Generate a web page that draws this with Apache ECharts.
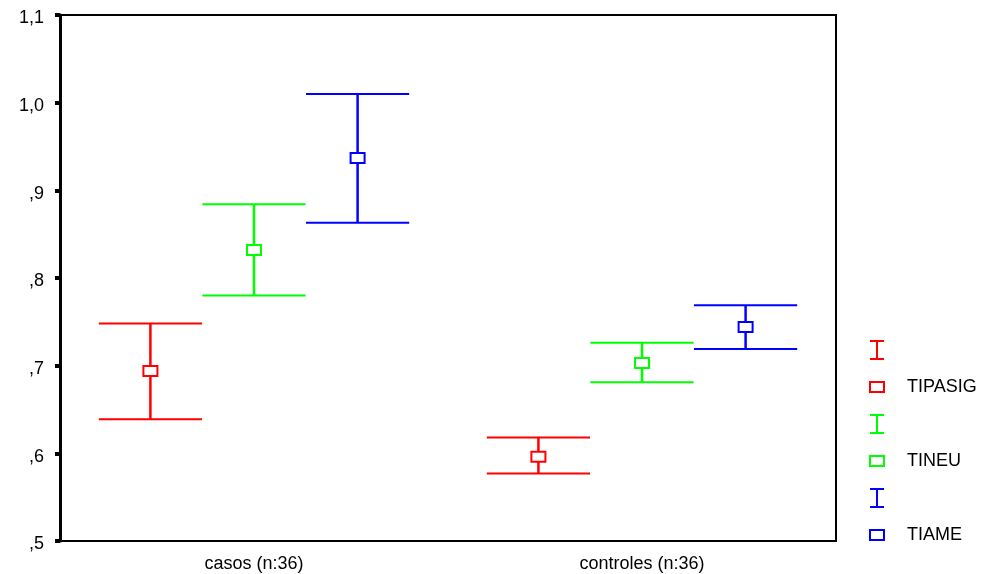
<!DOCTYPE html>
<html>
<head>
<meta charset="utf-8">
<script src="https://cdn.jsdelivr.net/npm/echarts@6/dist/echarts.min.js"></script>
<style>html,body{margin:0;padding:0;background:#fff}#c{width:1002px;height:574px}</style>
</head>
<body>
<div id="c"></div>
<script>
const categories = ['casos (n:36)', 'controles (n:36)'];
const seriesNames = ['TIPASIG', 'TINEU', 'TIAME'];
const seriesColors = ['#ff0000', '#00ff00', '#0000ff'];
const tipasigMean = [0.694, 0.596];
const tipasigLow  = [0.639, 0.577];
const tipasigHigh = [0.748, 0.618];
const tineuMean = [0.832, 0.703];
const tineuLow  = [0.780, 0.681];
const tineuHigh = [0.884, 0.726];
const tiameMean = [0.937, 0.744];
const tiameLow  = [0.863, 0.719];
const tiameHigh = [1.010, 0.769];
const yTicks = [0.5, 1.1, 0.1]; // min, max, interval

const means = [tipasigMean, tineuMean, tiameMean];
const lows = [tipasigLow, tineuLow, tiameLow];
const highs = [tipasigHigh, tineuHigh, tiameHigh];

const FONT = 'Liberation Sans, Arial, sans-serif';
const OFF = 0.267, HALF = 0.133;

function ciRender(idx) {
  return function (params, api) {
    const cat = api.value(0);
    const pHi = api.coord([cat, api.value(2)]);
    const pLo = api.coord([cat, api.value(1)]);
    const bw = api.size([1, 0])[0];
    const x = pHi[0] + (idx - 1) * OFF * bw;
    const h = HALF * bw;
    const st = { stroke: seriesColors[idx], lineWidth: 2, fill: null };
    return {
      type: 'group',
      children: [
        { type: 'line', shape: { x1: x, y1: pHi[1], x2: x, y2: pLo[1] }, style: Object.assign({}, st, { lineWidth: 2.5 }) },
        { type: 'line', shape: { x1: x - h, y1: pHi[1], x2: x + h, y2: pHi[1] }, style: st },
        { type: 'line', shape: { x1: x - h, y1: pLo[1], x2: x + h, y2: pLo[1] }, style: st }
      ]
    };
  };
}
function meanRender(idx) {
  return function (params, api) {
    const cat = api.value(0);
    const p = api.coord([cat, api.value(1)]);
    const bw = api.size([1, 0])[0];
    const x = p[0] + (idx - 1) * OFF * bw;
    return {
      type: 'rect',
      shape: { x: x - 7, y: p[1] - 5, width: 14, height: 10 },
      style: { fill: '#ffffff', stroke: seriesColors[idx], lineWidth: 2 }
    };
  };
}

const series = [];
const legendData = [];
seriesNames.forEach((n, i) => {
  series.push({
    name: n + '_ci', type: 'custom', renderItem: ciRender(i),
    itemStyle: { color: seriesColors[i] },
    encode: { x: 0, y: [1, 2] },
    data: categories.map((c, k) => [k, lows[i][k], highs[i][k]])
  });
});
seriesNames.forEach((n, i) => {
  series.push({
    name: n, type: 'custom', renderItem: meanRender(i), z: 3,
    itemStyle: { color: seriesColors[i] },
    encode: { x: 0, y: 1 },
    data: categories.map((c, k) => [k, means[i][k]])
  });
});
seriesNames.forEach((n, i) => {
  legendData.push({
    name: n + '_ci',
    icon: 'path://M0,0H14M7,0V18M0,18H14',
    itemStyle: { color: 'rgba(0,0,0,0)', borderColor: seriesColors[i], borderWidth: 2 }
  });
  legendData.push({
    name: n,
    icon: 'path://M0,0M14,18M0,4H14V14H0Z',
    itemStyle: { color: '#ffffff', borderColor: seriesColors[i], borderWidth: 2 }
  });
});

const chart = echarts.init(document.getElementById('c'), null, { renderer: 'canvas' });
chart.setOption({
  animation: false,
  backgroundColor: '#ffffff',
  grid: { left: 60, top: 15, right: 166, bottom: 33, show: true, borderColor: '#000', borderWidth: 2 },
  xAxis: {
    type: 'category', data: categories, boundaryGap: true,
    axisLine: { lineStyle: { color: '#000', width: 2 } },
    axisTick: { alignWithLabel: true, length: 5, lineStyle: { color: '#000', width: 6 } },
    axisLabel: { color: '#000', fontFamily: FONT, fontSize: 18, margin: 14 },
    splitLine: { show: false }
  },
  yAxis: {
    type: 'value', min: yTicks[0], max: yTicks[1], interval: yTicks[2],
    axisLine: { show: true, lineStyle: { color: '#000', width: 3 } },
    axisTick: { show: true, length: 5, lineStyle: { color: '#000', width: 4 } },
    axisLabel: {
      color: '#000', fontFamily: FONT, fontSize: 18, margin: 16,
      formatter: v => '{a|' + v.toFixed(1).replace('.', ',').replace(/^0/, '') + '}',
      rich: { a: { fontFamily: FONT, fontSize: 18, color: '#000', padding: [7, 0, 0, 0] } }
    },
    splitLine: { show: false }
  },
  legend: {
    orient: 'vertical', left: 864, top: 335, itemWidth: 14, itemHeight: 18, itemGap: 17,
    data: legendData, selectedMode: false,
    formatter: name => name.endsWith('_ci') ? '' : name,
    textStyle: { color: '#000', fontFamily: FONT, fontSize: 18, padding: [0, 0, 0, 18] }
  },
  series: series
});
</script>
</body>
</html>
